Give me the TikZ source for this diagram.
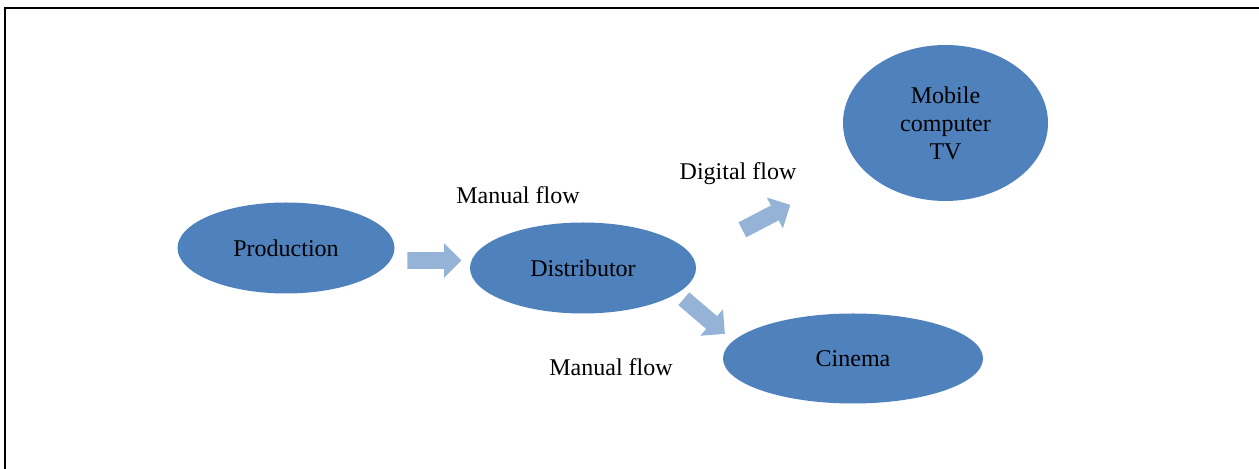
\documentclass[tikz,border=0pt]{standalone}
\usepackage{fontspec}
\setmainfont{Liberation Serif}
\usetikzlibrary{shapes.geometric,shapes.arrows}
\definecolor{ovalblue}{HTML}{4F81BD}
\definecolor{flowblue}{HTML}{95B3D7}
\tikzset{
  oval/.style={ellipse, fill=ovalblue, inner sep=0pt, align=center,
    font=\fontsize{12}{14}\selectfont},
  flowarrow/.style={single arrow, fill=flowblue, inner xsep=0pt, inner ysep=4pt,
    minimum height=27pt, minimum width=17pt, single arrow head extend=4.5pt,
    anchor=tail},
  flowlabel/.style={anchor=base, font=\fontsize{12}{14}\selectfont}
}
\begin{document}
\begin{tikzpicture}[x=0.5pt,y=-0.5pt]
\useasboundingbox (0,0) rectangle (1259,469);
\draw[line width=1pt] (4.5,469) -- (4.5,8) -- (1259,8);
% the four stages
\node[oval, minimum width=108.5pt, minimum height=45.5pt] (production) at (286,248) {Production};
\node[oval, minimum width=113pt, minimum height=45.5pt] (distributor) at (583,268) {Distributor};
\node[oval, minimum width=102.5pt, minimum height=78pt] (mobile) at (945.5,123) {Mobile\\computer\\TV};
\node[oval, minimum width=130pt, minimum height=45pt] (cinema) at (853,358.5) {Cinema};
% block arrows
\node[flowarrow] (toDistributor) at (407,260.5) {};
\node[flowarrow, rotate=27.5] (toMobile) at (742,230) {};
\node[flowarrow, rotate=-40.5] (toCinema) at (683.5,298.5) {};
% labels
\node[flowlabel] (manualTop) at (518,204) {Manual flow};
\node[flowlabel] (digital) at (738,180) {Digital flow};
\node[flowlabel] (manualBottom) at (611,376) {Manual flow};
\end{tikzpicture}
\end{document}
